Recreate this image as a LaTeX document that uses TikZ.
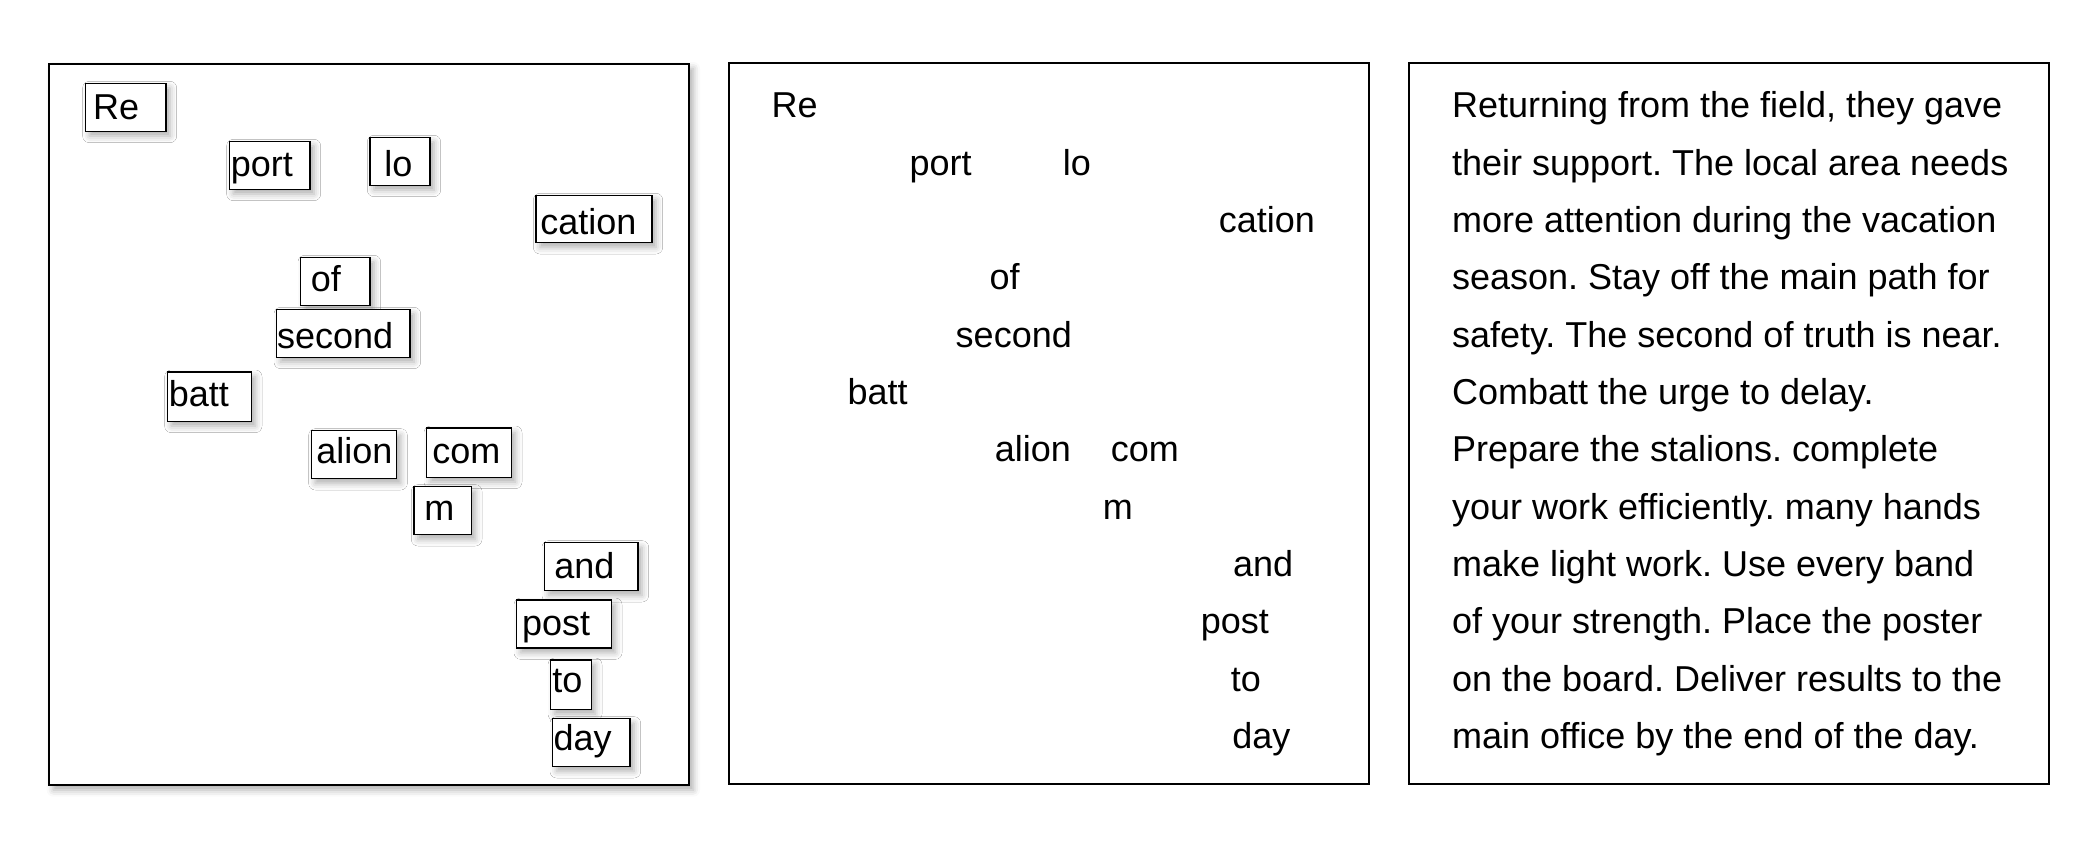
\documentclass[tikz,border=0pt]{standalone}
\usepackage{fontspec}
\setmainfont{Liberation Sans}
\usetikzlibrary{shadows.blur}
\frenchspacing
\begin{document}
\begin{tikzpicture}[x=1pt,y=-1pt,
  panel/.style={draw=black, line width=1.3pt, fill=white, inner sep=0pt, outer sep=0pt, anchor=north west},
  shadowed/.style={blur shadow={shadow xshift=3pt, shadow yshift=-3.5pt, shadow blur radius=5pt, shadow opacity=32}},
  wbox/.style={draw=black, line width=1.2pt, fill=white, inner sep=0pt, outer sep=0pt, shadowed},
  word/.style={inner sep=0pt, outer sep=0pt, anchor=base west, font=\fontsize{27}{32}\selectfont},
]
\useasboundingbox (0,0) rectangle (1567.5,634.5);

% panels
\node[panel, shadowed, minimum width=480pt, minimum height=541pt] (p1) at (37,48) {};
\node[panel, minimum width=480pt, minimum height=541pt] (p2) at (547,47) {};
\node[panel, minimum width=480pt, minimum height=541pt] (p3) at (1057,47) {};

% left panel: word boxes
\node[wbox, minimum width=60.5pt, minimum height=36pt] (bRe) at (94.25,80.5) {};
\node[wbox, minimum width=60.5pt, minimum height=36pt] (bport) at (202.25,124) {};
\node[wbox, minimum width=45pt, minimum height=36pt] (blo) at (300,121) {};
\node[wbox, minimum width=87pt, minimum height=35.5pt] (bcation) at (445.5,164.25) {};
\node[wbox, minimum width=52pt, minimum height=36pt] (bof) at (251.5,211) {};
\node[wbox, minimum width=100pt, minimum height=36pt] (bsecond) at (257.5,250) {};
\node[wbox, minimum width=63pt, minimum height=37pt] (bbatt) at (157,297.5) {};
\node[wbox, minimum width=64pt, minimum height=36pt] (balion) at (265.5,341) {};
\node[wbox, minimum width=63.5pt, minimum height=37pt] (bcom) at (351.75,339.5) {};
\node[wbox, minimum width=43pt, minimum height=36pt] (bm) at (332,383) {};
\node[wbox, minimum width=70pt, minimum height=36pt] (band) at (443.5,425) {};
\node[wbox, minimum width=71pt, minimum height=36pt] (bpost) at (423,468) {};
\node[wbox, minimum width=30.5pt, minimum height=37pt] (bto) at (428.25,513.5) {};
\node[wbox, minimum width=58pt, minimum height=36pt] (bday) at (443.5,557) {};

% left panel: words
\node[word] (lRe) at (69.8,89.5) {Re};
\node[word] (lport) at (173.2,132.5) {port};
\node[word] (llo) at (288.2,132.5) {lo};
\node[word] (lcation) at (405.2,175.5) {cation};
\node[word] (lof) at (233.2,218.5) {of};
\node[word] (lsecond) at (207.8,261.5) {second};
\node[word] (lbatt) at (126.7,304.5) {batt};
\node[word] (lalion) at (237.2,347.5) {alion};
\node[word] (lcom) at (324.2,347.5) {com};
\node[word] (lm) at (318.2,390.5) {m};
\node[word] (land) at (415.8,433.5) {and};
\node[word] (lpost) at (391.6,476.5) {post};
\node[word] (lto) at (414.2,519.5) {to};
\node[word] (lday) at (415.2,562.5) {day};

% middle panel: words
\node[word] (mRe) at (578.8,88.3) {Re};
\node[word] (mport) at (682.2,131.3) {port};
\node[word] (mlo) at (797.2,131.3) {lo};
\node[word] (mcation) at (914.2,174.3) {cation};
\node[word] (mof) at (742.2,217.3) {of};
\node[word] (msecond) at (716.8,260.3) {second};
\node[word] (mbatt) at (635.7,303.3) {batt};
\node[word] (malion) at (746.2,346.3) {alion};
\node[word] (mcom) at (833.2,346.3) {com};
\node[word] (mm) at (827.2,389.3) {m};
\node[word] (mand) at (924.8,432.3) {and};
\node[word] (mpost) at (900.6,475.3) {post};
\node[word] (mto) at (923.2,518.3) {to};
\node[word] (mday) at (924.2,561.3) {day};

% right panel: full text
\node[word] (r1) at (1089,88.3) {Returning from the field, they gave};
\node[word] (r2) at (1089,131.3) {their support. The local area needs};
\node[word] (r3) at (1089,174.3) {more attention during the vacation};
\node[word] (r4) at (1089,217.3) {season. Stay off the main path for};
\node[word] (r5) at (1089,260.3) {safety. The second of truth is near.};
\node[word] (r6) at (1089,303.3) {Combatt the urge to delay.};
\node[word] (r7) at (1089,346.3) {Prepare the stalions. complete};
\node[word] (r8) at (1089,389.3) {your work efficiently. many hands};
\node[word] (r9) at (1089,432.3) {make light work. Use every band};
\node[word] (r10) at (1089,475.3) {of your strength. Place the poster};
\node[word] (r11) at (1089,518.3) {on the board. Deliver results to the};
\node[word] (r12) at (1089,561.3) {main office by the end of the day.};
\end{tikzpicture}
\end{document}
